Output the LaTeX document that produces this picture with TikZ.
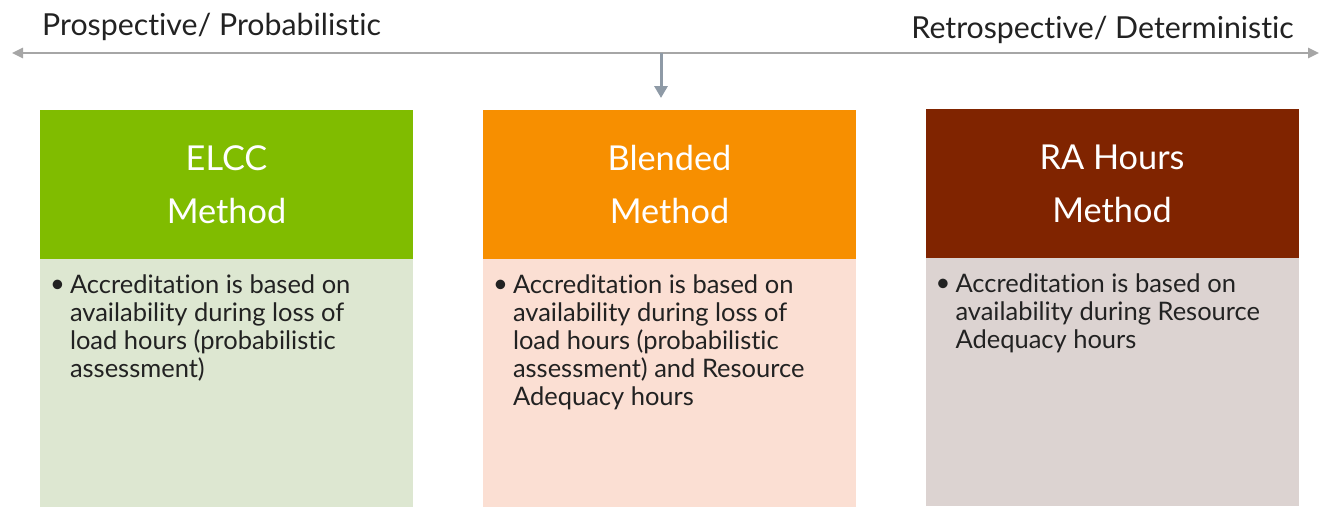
\documentclass[tikz,border=0pt]{standalone}
\usepackage{fontspec}
\setmainfont{Lato}[Ligatures={NoCommon,NoRare,NoContextual}]
\usetikzlibrary{arrows.meta}
\definecolor{hgreen}{HTML}{80BC00}
\definecolor{horange}{HTML}{F78F00}
\definecolor{hred}{HTML}{802400}
\definecolor{bgreen}{HTML}{DDE7D1}
\definecolor{borange}{HTML}{FBDFD3}
\definecolor{bred}{HTML}{DCD3D1}
\definecolor{axisgray}{HTML}{A6A6A6}
\definecolor{downgray}{HTML}{8E9AA6}
\definecolor{txt}{HTML}{222222}
\tikzset{
  header/.style={minimum width=373pt, minimum height=149pt, inner sep=0pt, text=white,
    align=center, font=\fontsize{34.3}{53}\selectfont},
  bodybox/.style={minimum width=373pt, minimum height=248pt, inner sep=0pt},
  bodytext/.style={anchor=north west, inner sep=0pt, align=left, text=txt,
    font=\fontsize{25.5}{28}\selectfont},
  bulletmark/.style={anchor=base west, inner sep=0pt, text=txt,
    font=\fontsize{25.5}{28}\selectfont},
  sidelabel/.style={inner sep=0pt, text=txt, font=\fontsize{30.3}{32}\selectfont},
  axis/.style={draw=axisgray, line width=2.5pt, {Triangle[length=11pt,width=10pt]}-{Triangle[length=11pt,width=10pt]}},
  downarrow/.style={draw=downgray, line width=3pt, -{Triangle[length=12pt,width=13pt]}}
}
\begin{document}
\begin{tikzpicture}[x=1pt,y=-1pt]
\useasboundingbox (0,0) rectangle (1319,507);
% axis
\coordinate (axL) at (12,53);
\coordinate (axR) at (1319,53);
\coordinate (axM) at (661,53);
\coordinate (axD) at (661,98);
\draw[axis] (axR) -- (axL);
\draw[downarrow] (axM) -- (axD);
\node[sidelabel, anchor=base west] (lp) at (42,35) {Prospective/ Probabilistic};
\node[sidelabel, anchor=base east] (lr) at (1294,38) {Retrospective/ Deterministic};
% boxes
\node[header, fill=hgreen] (h1) at (226.5,184.5) {ELCC\\Method};
\node[bodybox, fill=bgreen, anchor=north] (b1) at (h1.south) {};
\node[header, fill=horange] (h2) at (669.5,184.5) {Blended\\Method};
\node[bodybox, fill=borange, anchor=north] (b2) at (h2.south) {};
\node[header, fill=hred] (h3) at (1112,183.5) {RA Hours\\Method};
\node[bodybox, fill=bred, anchor=north] (b3) at (h3.south) {};
% texts
\node[bulletmark] (u1) at ([xshift=10pt,yshift=-33pt]b1.north west) {•};
\node[bodytext] (t1) at ([xshift=30pt,yshift=-15.5pt]b1.north west)
  {Accreditation is based on\\availability during loss of\\load hours (probabilistic\\assessment)};
\node[bulletmark] (u2) at ([xshift=10pt,yshift=-33pt]b2.north west) {•};
\node[bodytext] (t2) at ([xshift=30pt,yshift=-15.5pt]b2.north west)
  {Accreditation is based on\\availability during loss of\\load hours (probabilistic\\assessment) and Resource\\Adequacy hours};
\node[bulletmark] (u3) at ([xshift=10pt,yshift=-33pt]b3.north west) {•};
\node[bodytext] (t3) at ([xshift=30pt,yshift=-15.5pt]b3.north west)
  {Accreditation is based on\\availability during Resource\\Adequacy hours};
\end{tikzpicture}
\end{document}
